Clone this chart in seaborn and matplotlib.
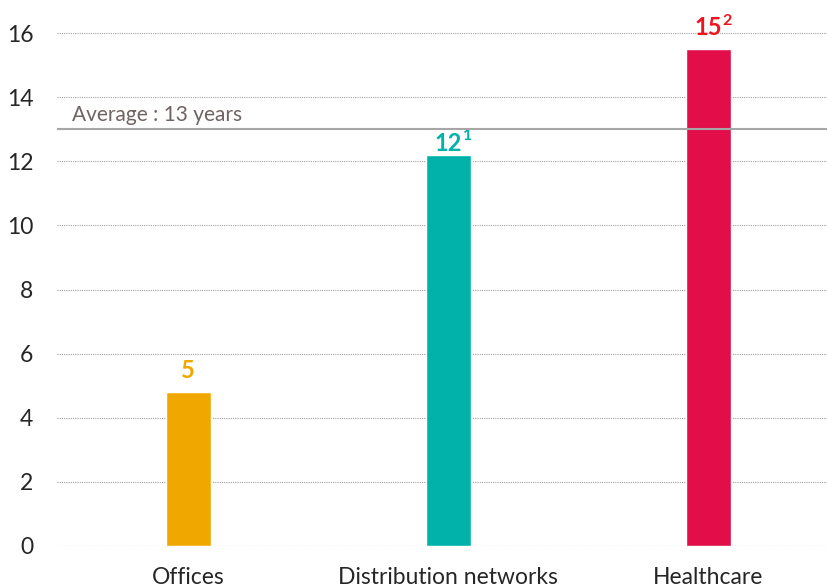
import matplotlib
matplotlib.use("Agg")
import matplotlib.pyplot as plt
import seaborn as sns
import pandas as pd

# Данные графика
categories = ["Offices", "Distribution networks", "Healthcare"]
values = [4.8, 12.2, 15.5]
value_labels = ["5", "12", "15"]
superscripts = ["", "1", "2"]
bar_colors = ["#F0A800", "#00B2A9", "#E20E4A"]
label_colors = ["#F0A800", "#00B2A9", "#F0141E"]
average = 13
average_label = "Average : 13 years"
y_ticks = [0, 2, 4, 6, 8, 10, 12, 14, 16]

sns.set_theme(style="white")
plt.rcParams['font.family'] = ['Lato', 'DejaVu Sans']

df = pd.DataFrame({"category": categories, "value": values})

fig = plt.figure(figsize=(8.28, 5.87), dpi=100)
ax = fig.add_axes([57 / 828, 41 / 587, 1 - 57 / 828, (546 - 17) / 587])

sns.barplot(data=df, x="category", y="value", hue="category",
            palette=bar_colors, width=0.173, legend=False, ax=ax,
            saturation=1, zorder=3)

ax.set_xlim(-0.505, 2.46)
ax.set_ylim(0, 16.5)
ax.set_yticks(y_ticks)
ax.grid(axis="y", linestyle=(0, (1, 1)), color="#A0A0A0", linewidth=0.8, zorder=0)
for s in ax.spines.values():
    s.set_visible(False)
ax.set_xlabel("")
ax.set_ylabel("")
ax.tick_params(axis="y", labelsize=16.5, labelcolor="#262626", length=0, pad=17)
ax.tick_params(axis="x", labelsize=16.5, labelcolor="#262626", length=0, pad=15)

# Линия среднего
ax.axhline(average, color="#A6A6A6", linewidth=1.5, zorder=4)
ax.annotate(average_label, xy=(0, average), xycoords=("axes fraction", "data"),
            xytext=(11, 3), textcoords="offset points", fontsize=15,
            color="#6E6461", va="bottom", ha="left")

# Подписи значений (отступ над столбцом в пикселях)
label_offsets = [10, 0, 10]
for i, (v, lab, sup, c) in enumerate(zip(values, value_labels, superscripts, label_colors)):
    t = ax.annotate(lab, xy=(i, v), xytext=(0, label_offsets[i] * 0.72),
                    textcoords="offset points", ha="center", va="bottom",
                    fontsize=17, fontweight="bold", color=c, annotation_clip=False)
    if sup:
        ax.annotate(sup, xy=(1.0, 0.5), xycoords=t, xytext=(0.3, 0),
                    textcoords="offset points", ha="left", va="bottom",
                    fontsize=11.5, fontweight="bold", color=c, annotation_clip=False)

fig.savefig("out.png", dpi=100)
